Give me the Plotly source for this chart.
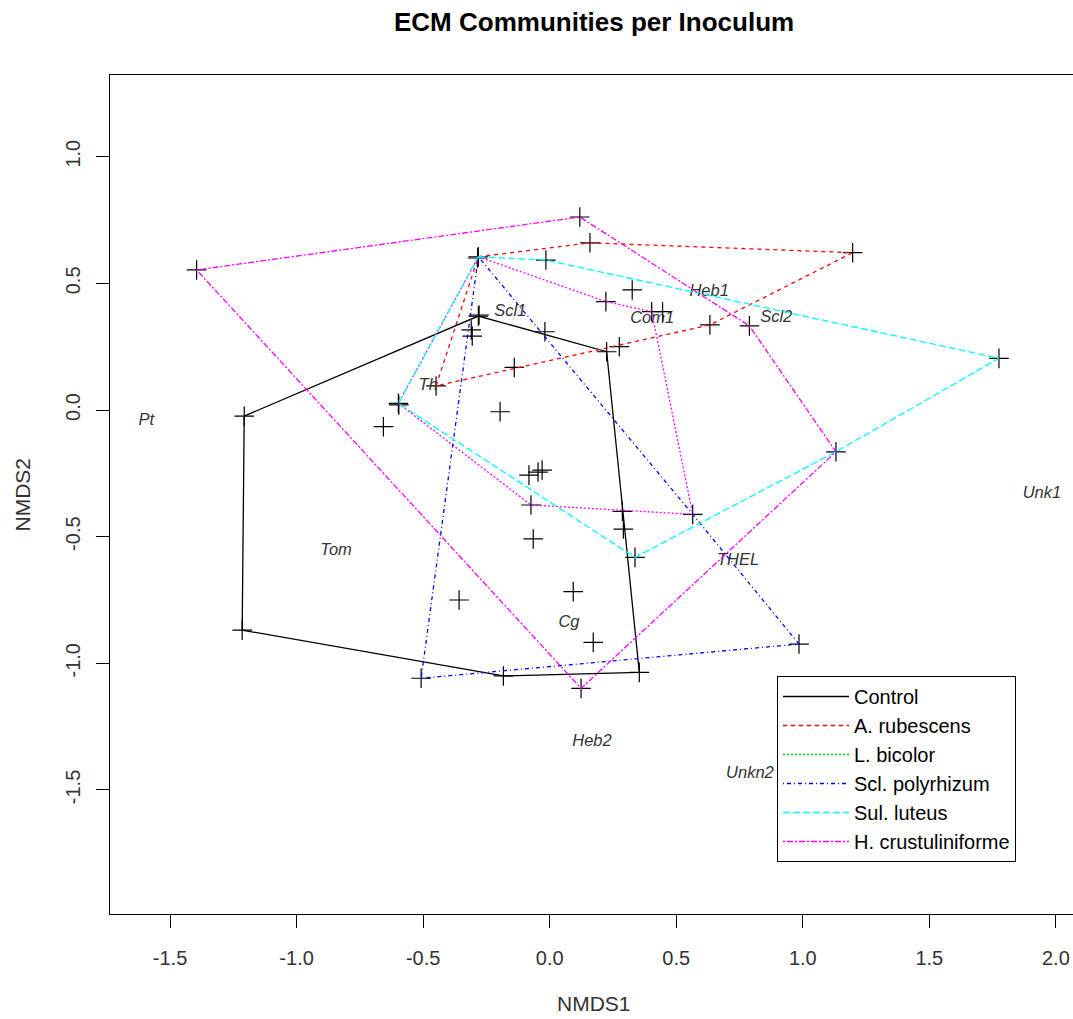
import plotly.graph_objects as go

# ---------------- data ----------------
site_x = [-0.282, -0.285, 0.159, -0.015, 0.326, 0.222, 0.446, 0.403, -0.282, -0.279,
          -0.310, -0.306, -0.019, 0.225, 0.275, -0.140, -0.449, -0.598, -0.596,
          -0.196, -0.657, -0.082, -0.046, -0.030, -0.074, 0.287, 0.291, 0.565,
          0.337, -0.065, -0.358, 0.093, 0.172, -0.508, -0.183, 0.124, 0.354,
          -1.395, -1.207, -1.215, 1.197, 0.633, 0.789, 1.775, 1.131, 0.119, 0.985]
site_y = [0.605, 0.600, 0.660, 0.592, 0.474, 0.428, 0.388, 0.388, 0.371, 0.375,
          0.316, 0.292, 0.309, 0.230, 0.250, 0.168, 0.095, 0.026, 0.020,
          -0.007, -0.066, -0.257, -0.245, -0.237, -0.375, -0.400, -0.470, -0.412,
          -0.582, -0.509, -0.750, -0.717, -0.917, -1.059, -1.050, -1.099, -1.036,
          0.553, -0.024, -0.869, 0.621, 0.336, 0.332, 0.204, -0.165, 0.762, -0.924]

groups = ["Control", "A. rubescens", "L. bicolor", "Scl. polyrhizum",
          "Sul. luteus", "H. crustuliniforme"]
group_colors = ["black", "#FF0000", "#00CD00", "#0000FF", "#00FFFF", "#FF00FF"]
group_dash = ["solid", "4px,4px", "2px,2px", "1px,3px,4px,3px", "7px,3px", "2px,2px,6px,2px"]

hull_control_x = [-1.207, -0.282, 0.225, 0.354, -0.183, -1.215, -1.207]
hull_control_y = [-0.024, 0.371, 0.230, -1.036, -1.050, -0.869, -0.024]
hull_rub_x = [-0.282, 0.159, 1.197, 0.633, -0.449, -0.282]
hull_rub_y = [0.605, 0.660, 0.621, 0.336, 0.095, 0.605]
hull_bic_x = [-0.282, 0.222, 0.403, 0.565, -0.074, -0.598, -0.282]
hull_bic_y = [0.605, 0.428, 0.388, -0.412, -0.375, 0.026, 0.605]
hull_scl_x = [-0.282, 0.565, 0.985, -0.508, -0.282]
hull_scl_y = [0.605, -0.412, -0.924, -1.059, 0.605]
hull_sul_x = [-0.282, -0.015, 1.775, 1.131, 0.337, -0.598, -0.282]
hull_sul_y = [0.605, 0.592, 0.204, -0.165, -0.582, 0.026, 0.605]
hull_heb_x = [-1.395, 0.119, 0.789, 1.131, 0.124, -1.395]
hull_heb_y = [0.553, 0.762, 0.332, -0.165, -1.099, 0.553]

species = ["Scl1", "Com1", "Heb1", "Scl2", "Th", "Pt", "Tom", "Cg", "THEL",
           "Unk1", "Heb2", "Unkn2"]
species_x = [-0.156, 0.405, 0.630, 0.895, -0.480, -1.594, -0.844, 0.076, 0.744,
             1.945, 0.167, 0.791]
species_y = [0.387, 0.359, 0.466, 0.363, 0.095, -0.043, -0.557, -0.841, -0.596,
             -0.332, -1.311, -1.437]

x_ticks = [-1.5, -1.0, -0.5, 0.0, 0.5, 1.0, 1.5, 2.0]
y_ticks = [-1.5, -1.0, -0.5, 0.0, 0.5, 1.0]

# ---------------- figure ----------------
FONT = "Liberation Sans, Arial, sans-serif"
fig = go.Figure()

# site points
fig.add_trace(go.Scatter(
    x=site_x, y=site_y, mode="markers", showlegend=False, hoverinfo="skip",
    marker=dict(symbol="cross-thin", size=14, line=dict(color="black", width=1.2)),
))

# species labels
fig.add_trace(go.Scatter(
    x=species_x, y=species_y, mode="text", text=species, showlegend=False,
    textfont=dict(family=FONT, size=16.5, color="#333333", style="italic"),
    hoverinfo="skip",
))

hulls = [
    (hull_control_x, hull_control_y, 0, 0, True),
    (hull_rub_x, hull_rub_y, 1, 1, True),
    (hull_bic_x, hull_bic_y, 2, 5, False),  # drawn in magenta in the original
    (hull_scl_x, hull_scl_y, 3, 3, True),
    (hull_sul_x, hull_sul_y, 4, 4, True),
    (hull_heb_x, hull_heb_y, 5, 5, True),
]
for hx, hy, gi, ci, in_leg in hulls:
    fig.add_trace(go.Scatter(
        x=hx, y=hy, mode="lines", name=groups[gi], showlegend=in_leg,
        legendrank=gi + 1, hoverinfo="skip",
        line=dict(color=group_colors[ci], width=1.3, dash=group_dash[gi]),
    ))
# legend-only entry for L. bicolor
fig.add_trace(go.Scatter(
    x=[None], y=[None], mode="lines", name=groups[2], legendrank=3,
    line=dict(color=group_colors[2], width=1.3, dash=group_dash[2]),
))

W, H = 1073, 1019
L, R, T, B = 110, 0, 75, 105
x0_px, x_per = 549.7, 253.1
y0_px, y_per = 410.0, 253.3
x_range = [(L - x0_px) / x_per, (W - R - x0_px) / x_per]
y_range = [(y0_px - (H - B)) / y_per, (y0_px - T) / y_per]

axis_common = dict(
    showgrid=False, zeroline=False, showline=True, linecolor="black", linewidth=1,
    mirror=True, ticks="outside", ticklen=13, tickcolor="black", tickwidth=1,
    tickfont=dict(family=FONT, size=20, color="#333333"),
)
fig.update_xaxes(range=x_range, tickvals=x_ticks,
                 ticktext=[f"{v:.1f}" for v in x_ticks], ticklabelstandoff=13,
                 **axis_common)
fig.update_yaxes(range=y_range, tickvals=y_ticks,
                 ticktext=[f"{v:.1f}" for v in y_ticks], tickangle=-90,
                 ticklabelstandoff=8, **axis_common)

fig.update_layout(
    width=W, height=H,
    margin=dict(l=L, r=R, t=T, b=B),
    plot_bgcolor="white", paper_bgcolor="white",
    font=dict(family=FONT, color="#333333"),
    legend=dict(
        x=(777 - L) / (W - L - R), y=(H - B - 676) / (H - B - T),
        xanchor="left", yanchor="top",
        bordercolor="black", borderwidth=1, bgcolor="white",
        font=dict(family=FONT, size=20, color="black"),
        itemwidth=66, tracegroupgap=0,
    ),
    annotations=[
        dict(text="<b>ECM Communities per Inoculum</b>", xref="paper", yref="paper",
             x=(594 - L) / (W - L - R), y=1, yshift=53, xanchor="center",
             yanchor="middle", showarrow=False,
             font=dict(family=FONT, size=26, color="black")),
        dict(text="NMDS1", xref="paper", yref="paper",
             x=(594 - L) / (W - L - R), y=0, yshift=-(1003 - (H - B)),
             xanchor="center", yanchor="middle", showarrow=False,
             font=dict(family=FONT, size=21, color="#333333")),
        dict(text="NMDS2", xref="paper", yref="paper", x=0, xshift=-(L - 22),
             y=0.5, xanchor="center", yanchor="middle", textangle=-90,
             showarrow=False, font=dict(family=FONT, size=21, color="#333333")),
    ],
)

fig.write_html("out.html")
